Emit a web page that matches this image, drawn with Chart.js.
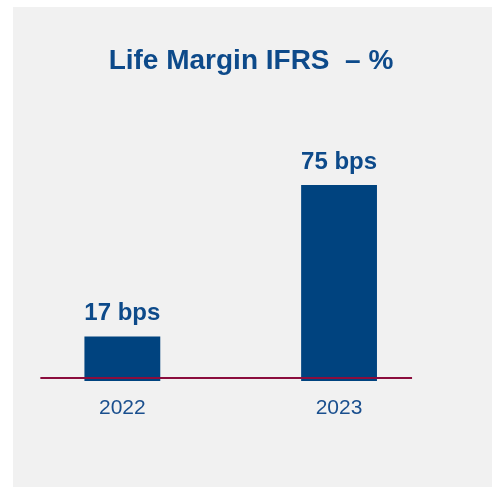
<!DOCTYPE html>
<html>
<head>
<meta charset="utf-8">
<script src="https://cdn.jsdelivr.net/npm/chart.js@4/dist/chart.umd.min.js"></script>
<style>
  html, body { margin: 0; padding: 0; background: #ffffff; }
  canvas { display: block; }
</style>
</head>
<body>
<canvas id="c" width="492" height="487"></canvas>
<script>
const categories = ['2022', '2023'];
const values = [17, 75];
const valueLabels = ['17 bps', '75 bps'];
const titleText = 'Life Margin IFRS  \u2013 %';

const FONT = '"Liberation Sans", Arial, Helvetica, sans-serif';
const BLUE_TEXT = '#0d4a8a';

const decorPlugin = {
  id: 'decor',
  beforeDraw(chart) {
    const ctx = chart.ctx;
    ctx.save();
    ctx.fillStyle = '#f1f1f1';
    ctx.fillRect(13, 7, chart.width - 13, chart.height - 7);
    ctx.restore();
  },
  afterDatasetsDraw(chart) {
    const ctx = chart.ctx;
    const xs = chart.scales.x, ys = chart.scales.y;
    // maroon baseline drawn over the bars
    const y0 = ys.getPixelForValue(0) - 3;
    ctx.save();
    ctx.strokeStyle = '#8b0d3d';
    ctx.lineWidth = 2;
    ctx.beginPath();
    ctx.moveTo(xs.getPixelForValue(0) - 82, y0);
    ctx.lineTo(xs.getPixelForValue(1) + 73, y0);
    ctx.stroke();
    // value labels
    const meta = chart.getDatasetMeta(0);
    ctx.fillStyle = BLUE_TEXT;
    ctx.font = 'bold 24px ' + FONT;
    ctx.textAlign = 'center';
    ctx.textBaseline = 'alphabetic';
    meta.data.forEach((bar, i) => {
      ctx.fillText(valueLabels[i], bar.x, bar.y - 16.5);
    });
    // title
    ctx.font = 'bold 28px ' + FONT;
    ctx.fillText(titleText, 251, 69);
    ctx.restore();
  }
};

new Chart(document.getElementById('c'), {
  type: 'bar',
  data: {
    labels: categories,
    datasets: [{
      data: values,
      backgroundColor: '#00437f',
      borderWidth: 0,
      barPercentage: 0.35,
      categoryPercentage: 1.0
    }]
  },
  options: {
    responsive: false,
    devicePixelRatio: 1,
    animation: false,
    layout: { padding: { left: 14, right: 44.6, top: 119.7, bottom: 50.8 } },
    plugins: { legend: { display: false }, title: { display: false }, tooltip: { enabled: false } },
    scales: {
      x: {
        offset: true,
        grid: { display: false, drawTicks: false },
        border: { display: false },
        ticks: { color: '#1a4f8e', font: { family: FONT, size: 21 }, padding: 15 }
      },
      y: {
        display: false,
        min: 0,
        max: 100
      }
    }
  },
  plugins: [decorPlugin]
});
</script>
</body>
</html>
